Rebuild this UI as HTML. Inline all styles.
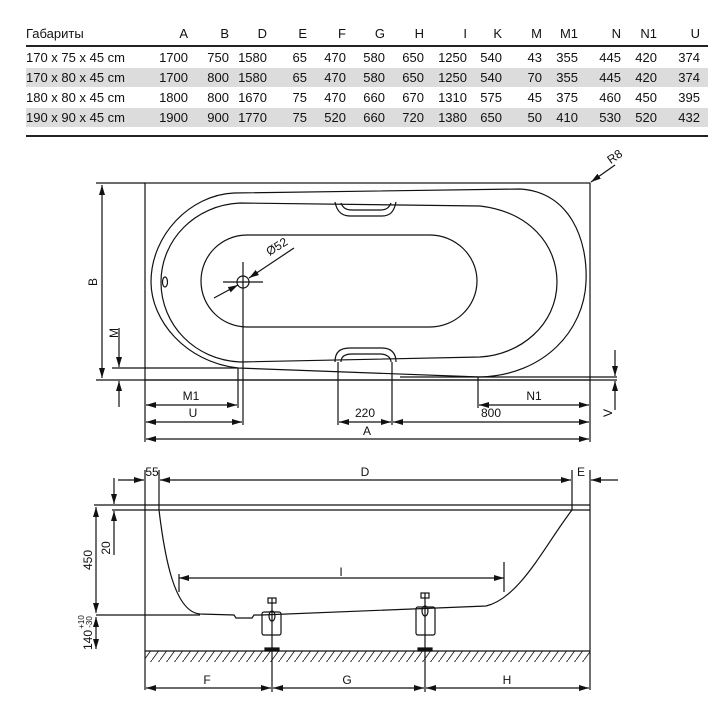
<!DOCTYPE html>
<html><head><meta charset="utf-8"><style>
html,body{margin:0;padding:0;background:#fff}
svg{display:block}
text{font-family:"Liberation Sans","DejaVu Sans",sans-serif;fill:#111}
</style></head><body>
<svg width="720" height="720" viewBox="0 0 720 720" xmlns="http://www.w3.org/2000/svg">
<defs>
<marker id="a" viewBox="0 0 10 6" refX="10" refY="3" markerWidth="10" markerHeight="6" markerUnits="userSpaceOnUse" orient="auto-start-reverse"><path d="M0,0 L10,3 L0,6 Z" fill="#111"/></marker>
<pattern id="h" width="8" height="11" patternUnits="userSpaceOnUse"><path d="M0,11 L8,0" stroke="#222" stroke-width="0.9"/></pattern>
</defs>
<!-- table -->
<rect x="26" y="68" width="682" height="19" fill="#dcdcdc"/>
<rect x="26" y="108" width="682" height="19" fill="#dcdcdc"/>
<line x1="26" y1="46" x2="708" y2="46" stroke="#222" stroke-width="2"/>
<line x1="26" y1="136" x2="708" y2="136" stroke="#222" stroke-width="2"/>
<g font-size="13" text-anchor="end">
<text x="26" y="38" text-anchor="start">Габариты</text>
<text x="188" y="38">A</text><text x="229" y="38">B</text><text x="267" y="38">D</text><text x="307" y="38">E</text><text x="346" y="38">F</text><text x="385" y="38">G</text><text x="424" y="38">H</text><text x="467" y="38">I</text><text x="502" y="38">K</text><text x="542" y="38">M</text><text x="578" y="38">M1</text><text x="621" y="38">N</text><text x="657" y="38">N1</text><text x="700" y="38">U</text>
</g>
<g font-size="13" text-anchor="end">
<g transform="translate(0,62)"><text x="26" text-anchor="start">170 x 75 x 45 cm</text><text x="188">1700</text><text x="229">750</text><text x="267">1580</text><text x="307">65</text><text x="346">470</text><text x="385">580</text><text x="424">650</text><text x="467">1250</text><text x="502">540</text><text x="542">43</text><text x="578">355</text><text x="621">445</text><text x="657">420</text><text x="700">374</text></g>
<g transform="translate(0,82)"><text x="26" text-anchor="start">170 x 80 x 45 cm</text><text x="188">1700</text><text x="229">800</text><text x="267">1580</text><text x="307">65</text><text x="346">470</text><text x="385">580</text><text x="424">650</text><text x="467">1250</text><text x="502">540</text><text x="542">70</text><text x="578">355</text><text x="621">445</text><text x="657">420</text><text x="700">374</text></g>
<g transform="translate(0,102)"><text x="26" text-anchor="start">180 x 80 x 45 cm</text><text x="188">1800</text><text x="229">800</text><text x="267">1670</text><text x="307">75</text><text x="346">470</text><text x="385">660</text><text x="424">670</text><text x="467">1310</text><text x="502">575</text><text x="542">45</text><text x="578">375</text><text x="621">460</text><text x="657">450</text><text x="700">395</text></g>
<g transform="translate(0,122)"><text x="26" text-anchor="start">190 x 90 x 45 cm</text><text x="188">1900</text><text x="229">900</text><text x="267">1770</text><text x="307">75</text><text x="346">520</text><text x="385">660</text><text x="424">720</text><text x="467">1380</text><text x="502">650</text><text x="542">50</text><text x="578">410</text><text x="621">530</text><text x="657">520</text><text x="700">432</text></g>
</g>

<!-- top view -->
<g fill="none" stroke="#111" stroke-width="1.2">
<rect x="145" y="183" width="445" height="197"/>
<path d="M234,193 L520,189 C570,192 588,240 586,282 C584,330 545,375 480,377 L238,368 C185,362 151,320 151,282 C151,235 190,195 234,193 Z"/>
<path d="M240,203 L480,206 C530,212 557,245 557,282 C557,325 520,355 480,357 L240,362 C195,360 161,325 161,282 C161,240 195,205 240,203 Z"/>
<path d="M247,235 L430,235 C455,235 477,255 477,281 C477,307 455,327 430,327 L247,327 C222,327 201,307 201,281 C201,255 222,235 247,235 Z"/>
<path d="M335,202 C337,212 342,216 350,216 L382,216 C390,216 394,212 396,202"/>
<path d="M341,203 C343,208 346,210 352,210 L380,210 C386,210 389,208 391,203"/>
<path d="M335,362 C335,352 340,348 350,348 L382,348 C390,348 396,352 396,362"/>
<path d="M341,362 C341,357 344,354 352,354 L380,354 C386,354 391,357 391,362"/>
<ellipse cx="165" cy="282" rx="2.5" ry="5"/>
<circle cx="243" cy="282" r="6"/>
<line x1="223" y1="282" x2="263" y2="282"/>
<line x1="243" y1="262" x2="243" y2="300"/>
<line x1="243" y1="300" x2="243" y2="425"/>
<line x1="238" y1="368" x2="238" y2="408"/>
<line x1="214" y1="298" x2="238" y2="285" marker-end="url(#a)"/>
<line x1="294" y1="248" x2="249" y2="278" marker-end="url(#a)"/>
<!-- B -->
<line x1="96" y1="183" x2="145" y2="183"/>
<line x1="96" y1="380" x2="617" y2="380"/>
<line x1="112" y1="368" x2="238" y2="368"/>
<line x1="400" y1="377" x2="617" y2="377"/>
<line x1="102" y1="185" x2="102" y2="378" marker-start="url(#a)" marker-end="url(#a)"/>
<!-- M -->
<line x1="119" y1="328" x2="119" y2="367" marker-end="url(#a)"/>
<line x1="119" y1="407" x2="119" y2="381" marker-end="url(#a)"/>
<!-- V -->
<line x1="615" y1="350" x2="615" y2="376" marker-end="url(#a)"/>
<line x1="615" y1="410" x2="615" y2="381" marker-end="url(#a)"/>
<!-- bottom dims -->
<line x1="145" y1="380" x2="145" y2="442"/>
<line x1="590" y1="380" x2="590" y2="442"/>
<line x1="338" y1="362" x2="338" y2="425"/>
<line x1="392" y1="362" x2="392" y2="425"/>
<line x1="478" y1="377" x2="478" y2="408"/>
<line x1="146" y1="405" x2="237" y2="405" marker-start="url(#a)" marker-end="url(#a)"/>
<line x1="146" y1="422" x2="242" y2="422" marker-start="url(#a)" marker-end="url(#a)"/>
<line x1="339" y1="422" x2="391" y2="422" marker-start="url(#a)" marker-end="url(#a)"/>
<line x1="393" y1="422" x2="589" y2="422" marker-start="url(#a)" marker-end="url(#a)"/>
<line x1="479" y1="405" x2="589" y2="405" marker-start="url(#a)" marker-end="url(#a)"/>
<line x1="146" y1="439" x2="589" y2="439" marker-start="url(#a)" marker-end="url(#a)"/>
<line x1="615" y1="165" x2="591" y2="182" marker-end="url(#a)"/>
</g>
<g font-size="12" text-anchor="middle">
<text x="191" y="400">M1</text><text x="193" y="417">U</text><text x="365" y="417">220</text><text x="491" y="417">800</text><text x="534" y="400">N1</text><text x="367" y="435">A</text>
<text transform="translate(97,282) rotate(-90)">B</text>
<text transform="translate(118,333) rotate(-90)">M</text>
<text transform="translate(612,413) rotate(-90)">V</text>
<text transform="translate(279,250) rotate(-32)">Ø52</text>
<text transform="translate(617,160) rotate(-35)">R8</text>
</g>

<!-- side view -->
<rect x="145" y="651" width="445" height="11" fill="url(#h)"/>
<g fill="none" stroke="#111" stroke-width="1.2">
<line x1="94" y1="505" x2="590" y2="505"/>
<line x1="112" y1="510" x2="590" y2="510"/>
<line x1="145" y1="470" x2="145" y2="690"/>
<line x1="590" y1="470" x2="590" y2="690"/>
<line x1="159" y1="470" x2="159" y2="510"/>
<line x1="572" y1="470" x2="572" y2="510"/>
<line x1="118" y1="480" x2="144" y2="480" marker-end="url(#a)"/>
<line x1="160" y1="480" x2="571" y2="480" marker-start="url(#a)" marker-end="url(#a)"/>
<line x1="618" y1="480" x2="591" y2="480" marker-end="url(#a)"/>
<path d="M159,510 C165,560 175,612 200,614 L234,615 L236,618 L252,618 L254,615 L262,615 L486,606 C520,598 545,545 572,510"/>
<line x1="179" y1="578" x2="504" y2="578" marker-start="url(#a)" marker-end="url(#a)"/>
<line x1="179" y1="574" x2="179" y2="592"/>
<line x1="504" y1="562" x2="504" y2="592"/>
<line x1="145" y1="651" x2="590" y2="651"/>
<line x1="96" y1="615" x2="200" y2="615"/>
<line x1="96" y1="507" x2="96" y2="613" marker-start="url(#a)" marker-end="url(#a)"/>
<line x1="96" y1="617" x2="96" y2="649" marker-start="url(#a)" marker-end="url(#a)"/>
<line x1="114" y1="478" x2="114" y2="504" marker-end="url(#a)"/>
<line x1="114" y1="555" x2="114" y2="511" marker-end="url(#a)"/>
<line x1="272" y1="648" x2="272" y2="692"/>
<line x1="425" y1="648" x2="425" y2="692"/>
<line x1="146" y1="688" x2="271" y2="688" marker-start="url(#a)" marker-end="url(#a)"/>
<line x1="273" y1="688" x2="424" y2="688" marker-start="url(#a)" marker-end="url(#a)"/>
<line x1="426" y1="688" x2="589" y2="688" marker-start="url(#a)" marker-end="url(#a)"/>
<!-- leg 1 -->
<rect x="262" y="612" width="19" height="23" rx="2"/>
<line x1="272" y1="598" x2="272" y2="648"/>
<rect x="268" y="598" width="8" height="5"/>
<ellipse cx="272" cy="616" rx="3" ry="5"/>
<rect x="265" y="648" width="14" height="3" fill="#111"/>
<!-- leg 2 -->
<rect x="416" y="607" width="19" height="28" rx="2"/>
<line x1="425" y1="593" x2="425" y2="648"/>
<rect x="421" y="593" width="8" height="5"/>
<ellipse cx="425" cy="611" rx="3" ry="5"/>
<rect x="418" y="648" width="14" height="3" fill="#111"/>
</g>
<g font-size="12" text-anchor="middle">
<text x="152" y="476">55</text><text x="365" y="476">D</text><text x="581" y="476">E</text>
<text x="341" y="576">I</text>
<text x="207" y="684">F</text><text x="347" y="684">G</text><text x="507" y="684">H</text>
<text transform="translate(92,560) rotate(-90)">450</text>
<text transform="translate(110,548) rotate(-90)">20</text>
<text transform="translate(92,640) rotate(-90)">140</text>
<text transform="translate(84,622) rotate(-90)" font-size="8">+10</text>
<text transform="translate(92,622) rotate(-90)" font-size="8">-30</text>
</g>
</svg>
</body></html>
